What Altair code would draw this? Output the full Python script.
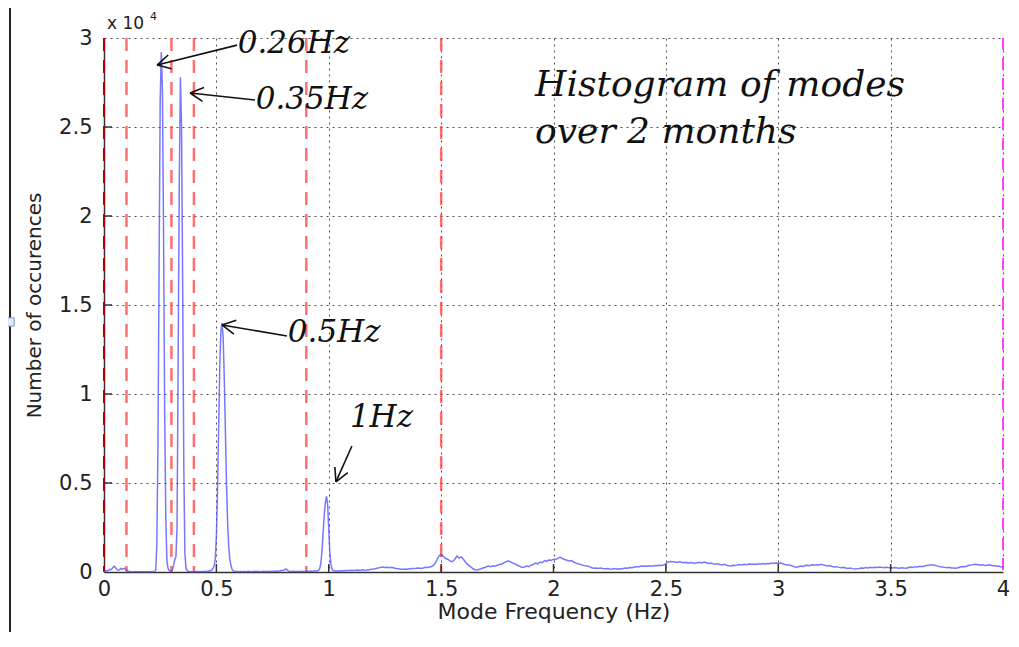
import math
import altair as alt
import pandas as pd

# ---------------- data ----------------
# counts per bin, 0.000 .. 1.100 Hz in 0.005 Hz bins
count_low = [
    0, 50, 80, 60, 100, 150, 120, 180, 250, 320, 280, 180, 120, 100, 150, 200, 160, 180, 220, 170, 120, 60, 40, 30, 20,
    20, 15, 10, 15, 10, 20, 15, 10, 10, 15, 20, 10, 15, 10, 20, 15, 10, 15, 20, 30, 50,
    100, 1500, 7000, 17000, 26500, 29200, 27000, 19000, 9000, 3000, 600, 200, 80, 60, 50,
    150, 400, 700, 860, 2500, 12000, 22000, 27800, 25000, 16000, 6000, 1000, 200, 80,
    40, 30, 20, 25, 20, 30, 20, 25, 30, 20, 30, 25, 20, 30, 25, 30, 40, 35, 50, 60, 80,
    100, 200, 350, 700, 2000, 4500, 8000, 11500, 13500, 14000, 13200, 11000, 8000, 5000, 2800, 1400, 700, 350, 150, 60,
    40, 30, 25, 30, 20, 30, 25, 20, 30, 25, 20, 30, 35, 25, 30, 20, 25, 30, 40, 30, 25, 35, 30, 20, 25, 30, 35, 30, 25, 30,
    40, 35, 30, 40, 35, 45, 40, 50, 45, 55, 60, 70, 80, 90,
    100, 150, 160, 120, 60, 40, 35, 30, 40, 35, 30, 25, 30, 35, 40, 30, 35, 40, 30, 35, 40, 45, 35, 40, 50, 45, 40, 50,
    55, 60, 70,
    100, 200, 500, 1200, 2200, 3200, 3900, 4250, 3800, 2400, 1000, 400, 150, 80,
    60, 50, 60, 55, 65, 60, 70, 65, 70, 80, 75, 85, 80, 90, 85, 95,
]
# counts per bin, 1.11 .. 4.00 Hz in 0.01 Hz bins
count_high = [
    90, 100, 110, 90, 120, 100, 110, 130, 150, 170,
    200, 230, 260, 280, 250, 270, 240, 260, 230, 200,
    180, 160, 150, 170, 150, 180, 200, 190, 210, 230,
    200, 220, 260, 250, 280, 320, 420, 650, 900, 1000,
    880, 760, 720, 620, 580, 700, 900, 780, 850, 700,
    520, 400, 300, 200, 130, 110, 150, 200, 240, 280,
    330, 300, 350, 330, 380, 420, 450, 520, 580, 630,
    560, 500, 440, 380, 320, 260, 280, 330, 300, 380,
    420, 500, 460, 560, 520, 640, 600, 680, 650, 720,
    700, 780, 820, 760, 700, 660, 620, 640, 560, 500,
    460, 430, 380, 350, 340, 300, 240, 210, 230, 200,
    220, 190, 180, 200, 170, 160, 190, 170, 180, 170,
    200, 220, 210, 250, 240, 280, 300, 290, 330, 320,
    340, 330, 350, 330, 370, 350, 380, 360, 390, 450,
    560, 590, 580, 560, 540, 570, 550, 520, 540, 500,
    530, 510, 490, 520, 540, 510, 560, 520, 480, 500,
    460, 440, 460, 420, 400, 430, 380, 350, 340, 380,
    360, 400, 420, 390, 430, 410, 450, 440, 450, 420,
    460, 440, 470, 450, 480, 460, 500, 480, 510, 490,
    500, 460, 420, 400, 390, 350, 300, 260, 300, 330,
    310, 360, 380, 350, 400, 380, 410, 390, 430, 400,
    370, 340, 360, 310, 280, 300, 260, 240, 270, 230,
    200, 220, 190, 170, 180, 200, 230, 210, 250, 230,
    260, 240, 270, 250, 280, 260, 240, 270, 250, 240,
    220, 250, 230, 210, 240, 220, 210, 250, 280, 260,
    300, 280, 320, 300, 340, 360, 380, 400, 390, 370,
    330, 300, 280, 260, 240, 270, 230, 220, 210, 240,
    280, 310, 290, 340, 380, 400, 420, 440, 410, 380,
    400, 360, 380, 400, 370, 350, 320, 340, 300, 280,
]
freq_low = [round(i * 0.005, 3) for i in range(len(count_low))]
freq_high = [round(1.11 + i * 0.01, 2) for i in range(len(count_high))]

marker_freqs = [0.1, 0.3, 0.4, 0.9, 1.5]
x_ticks = [0, 0.5, 1, 1.5, 2, 2.5, 3, 3.5, 4]
y_ticks = [0, 5000, 10000, 15000, 20000, 25000, 30000]

ann_text = ["0.26Hz", "0.35Hz", "0.5Hz", "1Hz"]
ann_x = [0.595, 0.675, 0.818, 1.094]
ann_y = [29660, 26520, 13430, 8650]
arrow_x0 = [0.592, 0.672, 0.814, 1.103]
arrow_y0 = [29600, 26520, 13260, 7080]
arrow_x1 = [0.236, 0.383, 0.525, 1.032]
arrow_y1 = [28480, 26910, 13880, 5060]

title_lines = ["Histogram of modes", "over 2 months"]
title_x = [1.918, 1.918]
title_y = [27360, 24720]

# ---------------- layout ----------------
W, H = 899, 534
XMAX, YMAX = 4, 30000
kx, ky = W / XMAX, H / YMAX

df = pd.DataFrame({"freq": freq_low + freq_high, "count": count_low + count_high})
df_mark = pd.DataFrame({"freq": marker_freqs})

# arrow shafts + open heads (wings computed in pixel space)
segs = []
for x0, y0, x1, y1 in zip(arrow_x0, arrow_y0, arrow_x1, arrow_y1):
    segs.append({"x": x0, "y": y0, "x2": x1, "y2": y1})
    dx, dy = (x1 - x0) * kx, -(y1 - y0) * ky
    L = math.hypot(dx, dy)
    ux, uy = -dx / L, -dy / L
    for a in (math.radians(28), -math.radians(28)):
        wx = (ux * math.cos(a) - uy * math.sin(a)) * 15
        wy = (ux * math.sin(a) + uy * math.cos(a)) * 15
        segs.append({"x": x1, "y": y1, "x2": x1 + wx / kx, "y2": y1 - wy / ky})
df_arrows = pd.DataFrame(segs)
df_ann = pd.DataFrame({"x": ann_x, "y": ann_y, "t": ann_text})
df_title = pd.DataFrame({"x": title_x, "y": title_y, "t": title_lines})

xs = alt.Scale(domain=[0, XMAX], nice=False, zero=False)
ys = alt.Scale(domain=[0, YMAX], nice=False)

x_axis = alt.Axis(values=x_ticks, labelExpr="datum.value + ''", title="Mode Frequency (Hz)",
                  ticks=False, labelPadding=6, titlePadding=2, labelFlush=False, titleFontSize=22)
y_axis = alt.Axis(values=y_ticks, labelExpr="(datum.value / 10000) + ''", title="Number of occurences",
                  ticks=False, labelPadding=12, titlePadding=14)

base = alt.Chart(df).mark_line(color="#4a4aff", strokeWidth=1.5, opacity=0.75).encode(
    x=alt.X("freq:Q", scale=xs, axis=x_axis),
    y=alt.Y("count:Q", scale=ys, axis=y_axis),
)

red_lines = alt.Chart(df_mark).mark_rule(color="#ff4040", strokeWidth=2.5, strokeDash=[13, 9], opacity=0.75).encode(
    x=alt.X("freq:Q", scale=xs)
)
zero_line = alt.Chart(df_mark).mark_rule(color="#b00000", strokeWidth=2, strokeDash=[13, 9]).encode(
    x=alt.datum(0, scale=xs)
)
end_line = alt.Chart(df_mark).mark_rule(color="#ff40ff", strokeWidth=2, strokeDash=[12, 8]).encode(
    x=alt.datum(4, scale=xs)
)

df_xt = pd.DataFrame({"v": x_ticks[1:-1]})
df_yt = pd.DataFrame({"v": y_ticks[1:-1]})
x_tick_marks = alt.Chart(df_xt).mark_rule(color="#333", strokeWidth=1.5).encode(
    x=alt.X("v:Q", scale=xs), y=alt.value(H), y2=alt.value(H - 8)
)
y_tick_marks = alt.Chart(df_yt).mark_rule(color="#333", strokeWidth=1.5).encode(
    y=alt.Y("v:Q", scale=ys), x=alt.value(0), x2=alt.value(8)
)

arrows = alt.Chart(df_arrows).mark_rule(color="#111", strokeWidth=1.6).encode(
    x=alt.X("x:Q", scale=xs), y=alt.Y("y:Q", scale=ys), x2="x2:Q", y2="y2:Q"
)
ann = alt.Chart(df_ann).mark_text(align="left", baseline="middle", font="DejaVu Serif", fontStyle="italic",
                                  fontSize=31, color="#111").encode(
    x=alt.X("x:Q", scale=xs), y=alt.Y("y:Q", scale=ys), text="t:N"
)
titles = alt.Chart(df_title).mark_text(align="left", baseline="middle", font="DejaVu Serif", fontStyle="italic",
                                       fontSize=36, color="#111").encode(
    x=alt.X("x:Q", scale=xs), y=alt.Y("y:Q", scale=ys), text="t:N"
)

# exponent label "x 10^4"
exp_df = pd.DataFrame({"t": ["x 10"]})
exp_main = alt.Chart(exp_df).mark_text(align="left", baseline="alphabetic", font="DejaVu Sans", fontSize=17,
                                       color="#222").encode(x=alt.value(3), y=alt.value(-9), text="t:N")
exp_sup = alt.Chart(pd.DataFrame({"t": ["4"]})).mark_text(align="left", baseline="alphabetic", font="DejaVu Sans",
                                                          fontSize=11, color="#222").encode(
    x=alt.value(46), y=alt.value(-18), text="t:N")

# document frame decoration (left edge bracket + handle)
frame = alt.Chart(exp_df).mark_rule(color="#222", strokeWidth=2).encode(
    x=alt.value(-94), y=alt.value(-32), y2=alt.value(603)
)
handles = alt.Chart(pd.DataFrame({"px": [-94], "py": [284]})).mark_square(
    size=70, color="#dde8f5", stroke="#7a9cc6", strokeWidth=1, filled=True, opacity=1
).encode(x=alt.X("px:Q", scale=None), y=alt.Y("py:Q", scale=None))

chart = alt.layer(
    red_lines, zero_line, end_line, base, x_tick_marks, y_tick_marks, arrows, ann, titles,
    exp_main, exp_sup, frame, handles
).properties(
    width=W, height=H,
    autosize=alt.AutoSizeParams(type="none"),
    padding={"left": 96, "top": 30, "right": 8, "bottom": 60},
).configure_view(stroke=None).configure_axis(
    domainColor="#333", domainWidth=1.5,
    grid=True, gridColor="#333", gridDash=[2, 4], gridOpacity=0.85, gridWidth=1,
    labelFont="DejaVu Sans", labelFontSize=21, labelColor="#222",
    titleFont="DejaVu Sans", titleFontSize=20, titleFontWeight="normal", titleColor="#222",
)

chart.save("out.html", embed_options={"renderer": "svg", "actions": False})
